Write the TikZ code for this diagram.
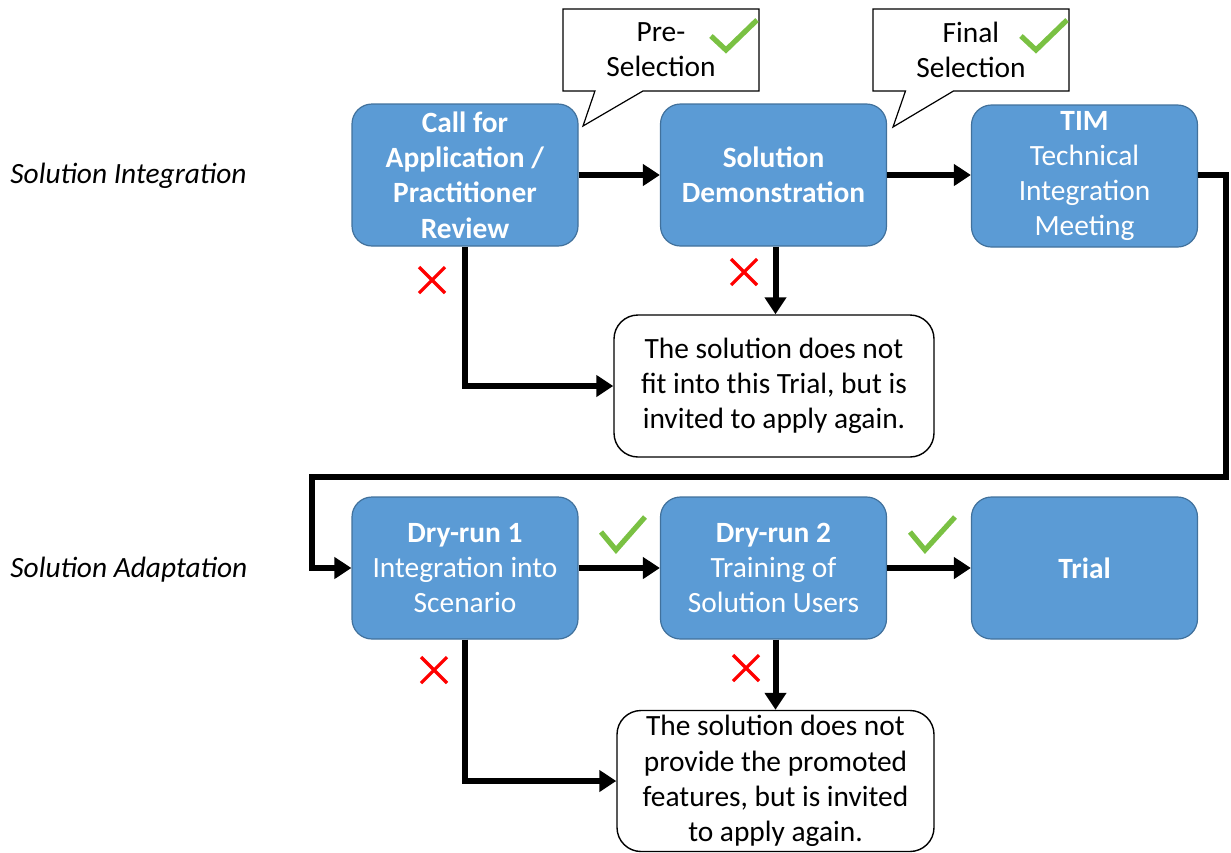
\documentclass[tikz,border=0pt]{standalone}
\usepackage{fontspec}
\setmainfont{Carlito}
\usetikzlibrary{arrows.meta,shapes.callouts}
\definecolor{boxblue}{HTML}{5B9BD5}
\definecolor{boxedge}{HTML}{41719C}
\definecolor{checkgreen}{HTML}{7AC143}
\begin{document}
\begin{tikzpicture}[x=0.5pt,y=-0.5pt,
  font=\fontsize{14.7}{17.6}\selectfont,
  stepbox/.style={draw=boxedge, line width=0.6pt, fill=boxblue, rounded corners=10pt,
    minimum width=113pt, minimum height=71pt, text=white, align=center, inner sep=0pt},
  notebox/.style={draw=black, line width=0.7pt, fill=white, rounded corners=12pt,
    minimum width=160pt, minimum height=71pt, align=center, inner sep=0pt},
  flow/.style={line width=3pt, -{Triangle[length=8.5pt,width=10.5pt]}},
  calloutbox/.style={rectangle callout, draw, line width=0.6pt, fill=white,
    minimum width=98pt, minimum height=41pt, align=center, inner sep=0pt,
    callout pointer width=24pt},
  okmark/.style={draw=checkgreen, line width=2.6pt},
  nomark/.style={draw=red, line width=1.6pt},
  rowlabel/.style={anchor=west, font=\fontsize{14.7}{17.6}\selectfont\itshape, inner sep=0pt}]
\useasboundingbox (0,0) rectangle (1231,852);

% row labels
\node[rowlabel] (l1) at (10,176) {Solution Integration};
\node[rowlabel] (l2) at (10,570) {Solution Adaptation};

% blue step boxes
\node[stepbox] (b1) at (465,175) {\textbf{Call for}\\\textbf{Application /}\\\textbf{Practitioner}\\\textbf{Review}};
\node[stepbox] (b2) at (773.5,175) {\textbf{Solution}\\\textbf{Demonstration}};
\node[stepbox] (b3) at (1084.5,176) {\textbf{TIM}\\Technical\\Integration\\Meeting};
\node[stepbox] (b4) at (465,568) {\textbf{Dry-run 1}\\Integration into\\Scenario};
\node[stepbox] (b5) at (773.5,568) {\textbf{Dry-run 2}\\Training of\\Solution Users};
\node[stepbox] (b6) at (1084.5,568) {\textbf{Trial}};

% white note boxes
\node[notebox] (n1) at (774,386) {The solution does not\\fit into this Trial, but is\\invited to apply again.};
\node[notebox, minimum width=158.5pt, minimum height=70.5pt] (n2) at (775.5,781) {The solution does not\\provide the promoted\\features, but is invited\\to apply again.};

% callouts
\node[calloutbox, callout absolute pointer={(583,126)}] (c1) at (661,50) {Pre-\\Selection};
\node[calloutbox, callout absolute pointer={(893,127)}] (c2) at (971,50) {Final\\Selection};

% connectors
\coordinate (r1) at (1226,477);
\coordinate (r2) at (312,477);
\draw[flow] (b1) -- (b2);
\draw[flow] (b2) -- (b3.west |- b2);
\draw[flow] (b3.east |- b2) -| (r1) -- (r2) |- (b4.west);
\draw[flow] (b4) -- (b5);
\draw[flow] (b5) -- (b6);
\draw[flow] (b1.south) |- (n1.west);
\draw[flow] ([xshift=1pt]b2.south) -- ([xshift=1pt]b2.south |- n1.north);
\draw[flow] (b4.south) |- (n2.west);
\draw[flow] ([xshift=1pt]b5.south) -- ([xshift=1pt]b5.south |- n2.north);

% check marks
\draw[okmark] (711,36) -- (726,50) -- (757,20);
\draw[okmark] (1021,36) -- (1036,50) -- (1067,20);
\draw[okmark] (601,532) -- (616,550) -- (645,517);
\draw[okmark] (910,532) -- (925,550) -- (955,517);

% crosses
\draw[nomark] (419,267) -- (445,293) (445,267) -- (419,293);
\draw[nomark] (731,259) -- (757,285) (757,259) -- (731,285);
\draw[nomark] (421,657) -- (447,683) (447,657) -- (421,683);
\draw[nomark] (733,655) -- (759,681) (759,655) -- (733,681);
\end{tikzpicture}
\end{document}
